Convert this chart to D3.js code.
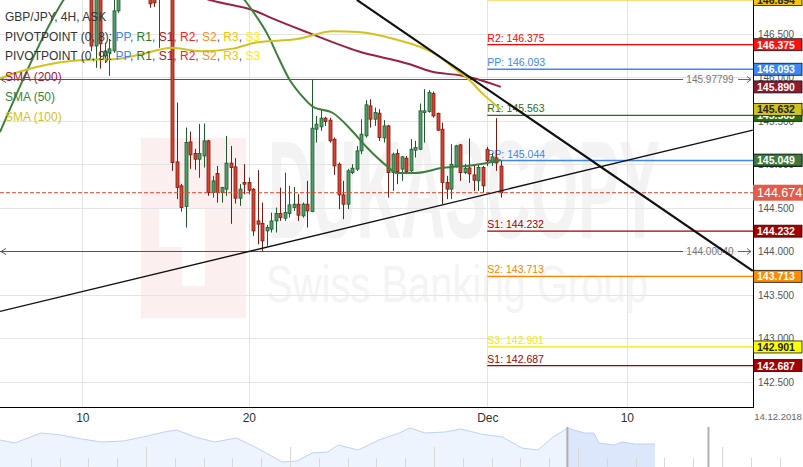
<!DOCTYPE html>
<html><head><meta charset="utf-8">
<script src="https://cdn.jsdelivr.net/npm/d3@7"></script>
<style>
html,body{margin:0;padding:0;background:#fff;}
svg{display:block;font-family:"Liberation Sans",Arial,sans-serif;}
</style></head><body>
<svg id="chart" width="803" height="467"></svg>
<script>
// ---------------- DATA ----------------
const candleIdx = [20,21,22,23,24,25,26,33,34,35,
  38,39,40,41,42,43,44,45,46,47,48,49,50,51,52,53,54,55,56,57,58,59,60,61,62,63,64,65,66,67,68,69,70,
  71,72,73,74,75,76,77,78,79,80,81,82,83,84,85,86,87,88,89,90,91,92,93,94,95,96,97,98,99,100,
  101,102,103,104,105,106,107,108,109,110,111];
const open  = [147.30,146.36,147.25,146.247,146.281,146.304,146.764,147.00,146.95,146.95,
  147.30,145.028,144.753,144.515,145.258,145.124,145.059,145.097,145.270,144.676,144.894,144.676,144.715,145.014,144.971,144.611,144.791,144.791,144.715,144.350,144.319,144.235,144.255,144.350,144.434,144.381,144.434,144.503,144.542,144.408,144.542,144.457,145.404,
  145.431,145.531,145.508,145.289,145.002,144.649,144.542,144.905,144.945,145.155,145.327,145.672,145.519,145.588,145.304,145.442,144.905,145.124,144.945,145.071,144.925,145.163,145.174,145.595,145.607,145.813,145.584,145.404,144.791,144.715,
  144.980,145.224,144.905,144.959,144.879,144.810,144.963,145.174,145.020,145.074,144.980];
const high  = [147.35,147.25,147.30,146.396,146.442,146.95,147.20,147.05,147.00,147.15,
  147.40,145.710,144.776,145.423,145.377,145.178,145.465,145.469,145.281,144.868,144.982,144.741,145.327,145.212,145.071,144.772,145.002,144.848,144.726,144.933,144.561,144.304,144.446,144.503,144.733,144.905,144.753,144.741,144.657,144.561,144.810,145.978,145.557,
  145.634,145.546,145.534,145.308,145.020,144.810,144.948,145.002,145.212,145.519,145.738,145.749,145.653,145.634,145.508,145.454,145.135,145.174,145.097,145.097,145.289,145.270,145.699,145.864,145.853,145.836,145.595,145.480,144.868,145.232,
  145.224,145.235,145.005,145.298,144.982,145.002,144.982,145.201,145.132,145.531,145.040];
const low   = [146.30,146.11,146.10,146.166,146.017,146.281,146.741,146.80,146.81,146.339,
  144.925,144.600,144.457,144.273,144.948,144.937,144.845,144.963,144.638,144.618,144.561,144.561,144.638,144.316,144.549,144.523,144.657,144.657,144.178,144.082,144.0004,144.063,144.216,144.216,144.350,144.350,144.388,144.465,144.350,144.388,144.273,144.450,145.250,
  145.385,145.442,145.250,144.879,144.485,144.370,144.485,144.887,144.925,145.117,145.308,145.423,145.442,145.270,145.250,144.618,144.695,144.772,144.810,144.887,144.905,145.078,145.163,145.250,145.595,145.538,145.385,144.542,144.600,144.600,
  144.963,144.810,144.887,144.787,144.695,144.695,144.676,144.982,144.982,144.925,144.617];
const close = [146.36,147.20,146.385,146.304,146.327,146.764,147.10,146.845,146.856,147.10,
  145.020,144.733,144.503,145.250,145.109,145.059,145.124,145.270,144.676,144.810,144.676,144.733,145.014,144.963,144.611,144.715,144.772,144.703,144.235,144.312,144.120,144.273,144.350,144.434,144.388,144.446,144.534,144.542,144.416,144.542,144.465,145.416,145.462,
  145.531,145.492,145.270,144.982,144.649,144.542,144.925,144.956,145.155,145.347,145.684,145.519,145.595,145.308,145.442,144.905,145.117,144.917,145.086,144.917,145.174,145.193,145.615,145.615,145.825,145.557,145.393,144.791,144.715,145.000,
  145.212,144.905,144.956,144.890,144.818,144.963,144.753,145.040,145.086,145.016,144.674];

// moving averages
const sma50Idx = [-0.3,13.7,33,54.2,59.7,61.2,64.2,66.4,69.3,73.7,77.5,81.3,85.7,87.9,91.9,98.2,104.8,109.3,111];
const sma50Val = [145.37,146.88,147.90,146.88,146.44,146.27,145.96,145.81,145.66,145.59,145.41,145.19,144.98,144.90,144.90,144.96,144.99,145.03,145.049];
const sma100Idx = [-0.3,7.1,18.2,25.5,31.5,37.9,44.2,51.5,56.6,65.7,73.7,79.3,87.3,96.4,101.5,104.2,106.6,111];
const sma100Val = [145.99,146.11,146.20,146.21,146.27,146.34,146.30,146.33,146.40,146.44,146.53,146.52,146.44,146.27,146.07,145.96,145.83,145.632];
const sma200Idx = [33,47,56.6,59.7,67.9,79.3,90.8,95.3,102.2,106.4,111];
const sma200Val = [147.11,146.88,146.76,146.69,146.52,146.30,146.15,146.07,146.02,145.97,145.890];

// pivot levels
const pivotNames  = ["R3","R2","PP","R1","PP","S1","S2","S3","S1"];
const pivotValues = [146.894,146.375,146.093,145.563,145.044,144.232,143.713,142.901,142.687];
const pivotColors = ["#f5c400","#ff0000","#3c87f5","#2a6e10","#3c87f5","#a30000","#ff8000","#f5e900","#a00000"];
const pivotStartIdx = 108;

// trend lines [idx, price]
const trendDown = [[79.0,146.890],[167.0,143.775]];
const trendUp   = [[-0.3,143.31],[167.0,145.393]];

// high / low markers
const hiLoValues = [145.97799, 144.00040];
const lastPrice = 144.674;

// axes
const yTicks = [142.5,143.0,143.5,144.0,144.5,145.0,145.5,146.0,146.5];
const xTickIdx = [18,55,108,139];
const xTickLabels = ["10","20","Dec","10"];
const endDateLabel = "14.12.2018";

// legend
const legendTitle = "GBP/JPY, 4H, ASK";
const pivotLegendTitles = ["PIVOTPOINT (0, 8): ","PIVOTPOINT (0, 9): "];
const pivotLegendNames = ["PP","R1","S1","R2","S2","R3","S3"];
const pivotLegendColors = ["#3c87f5","#2a7a1a","#a52020","#ff2020","#ff8c1a","#ffc000","#ffee00"];
const smaLegend = ["SMA (200)","SMA (50)","SMA (100)"];
const smaColors = ["#9c2140","#3d7f3d","#d4c21c"];

// navigator (overview) series: trading day, price
const navDay = [0,2.6,7.1,10.6,14.2,17.7,21.4,24.8,28.5,30.7,33.9,37.3,41.0,43.6,46.2,49.0,51.6,54.2,56.9,58.7,62.2,65.8,69.3,71.2,73.8,77.3,80.0,83.5,87.2,90.6,93.4,96.0,98.6,101.4,103.1,104.0,106.6,108.0,110.2,113.7];
const navPrice = [146.4,145.8,147.8,147.4,146.6,146.0,146.2,147.0,148.0,148.4,147.0,146.0,146.8,145.4,143.8,142.0,142.2,143.8,144.0,145.4,144.4,146.4,147.8,148.8,147.8,148.0,148.6,147.6,147.0,144.8,144.4,147.0,148.8,147.8,147.8,145.8,145.4,146.0,145.6,145.6];
const navWindow = [98.5, 123.0];

// ---------------- CHART ----------------
const W = 803, H = 467, plotW = 753, plotH = 407;
const svg = d3.select("#chart");
const x = d3.scaleLinear().domain([-0.29, 167.04]).range([0, plotW]);
const y = d3.scaleLinear().domain([142.211, 146.889]).range([plotH, 0]);

svg.append("rect").attr("width", W).attr("height", H).attr("fill", "#fff");
svg.append("defs").append("clipPath").attr("id", "clip")
  .append("rect").attr("width", plotW).attr("height", plotH);

const plot = svg.append("g").attr("clip-path", "url(#clip)");

// watermark
const wm = plot.append("g");
wm.append("rect").attr("x", 141).attr("y", 138).attr("width", 105).attr("height", 180).attr("fill", "#fcefef");
wm.append("rect").attr("x", 159).attr("y", 208).attr("width", 46).attr("height", 39).attr("fill", "#fff");
wm.append("rect").attr("x", 182).attr("y", 246).attr("width", 23).attr("height", 40).attr("fill", "#fff");
wm.append("text").attr("x", 268).attr("y", 238).attr("font-size", 140).attr("font-weight", "bold")
  .attr("textLength", 392).attr("lengthAdjust", "spacingAndGlyphs").attr("fill", "#f3f3f3").text("DUKASCOPY");
wm.append("text").attr("x", 266).attr("y", 302).attr("font-size", 52)
  .attr("textLength", 382).attr("lengthAdjust", "spacingAndGlyphs").attr("fill", "#f4f4f4").text("Swiss Banking Group");

// grid
plot.append("g").selectAll("line").data(yTicks).join("line")
  .attr("x1", 0).attr("x2", plotW).attr("y1", d => Math.round(y(d)) + 0.5).attr("y2", d => Math.round(y(d)) + 0.5)
  .attr("stroke", "#e4e4e4");
plot.append("g").selectAll("line").data(xTickIdx).join("line")
  .attr("y1", 0).attr("y2", plotH).attr("x1", d => Math.round(x(d)) + 0.5).attr("x2", d => Math.round(x(d)) + 0.5)
  .attr("stroke", "#e4e4e4");

// legend
const lg = svg.append("g").attr("font-size", 12);
lg.append("text").attr("x", 5).attr("y", 20.5).attr("fill", "#333").text(legendTitle);
pivotLegendTitles.forEach((t, r) => {
  const tx = lg.append("text").attr("x", 5).attr("y", 40.5 + r * 19.5).attr("fill", "#333");
  tx.append("tspan").text(t);
  pivotLegendNames.forEach((n, i) => {
    tx.append("tspan").attr("fill", pivotLegendColors[i]).text(n);
    if (i < pivotLegendNames.length - 1) tx.append("tspan").attr("fill", "#555").text(", ");
  });
});
smaLegend.forEach((t, i) => {
  lg.append("text").attr("x", 5).attr("y", 80.5 + i * 20).attr("fill", smaColors[i]).text(t);
});

// high/low markers
hiLoValues.forEach(v => {
  const yy = Math.round(y(v)) + 0.5;
  const g = plot.append("g");
  g.append("line").attr("x1", 0).attr("x2", 683).attr("y1", yy).attr("y2", yy).attr("stroke", "#555").attr("stroke-width", 1);
  g.append("path").attr("d", `M6,${yy - 3}L1,${yy}L6,${yy + 3}`).attr("fill", "none").attr("stroke", "#555");
  g.append("text").attr("x", 710).attr("y", yy + 3.5).attr("text-anchor", "middle").attr("font-size", 10)
    .attr("fill", "#777").text(v.toFixed(5));
  g.append("line").attr("x1", 738).attr("x2", 751).attr("y1", yy).attr("y2", yy).attr("stroke", "#666");
  g.append("path").attr("d", `M747,${yy - 3}L751,${yy}L747,${yy + 3}`).attr("fill", "none").attr("stroke", "#666");
});

// pivot lines + labels
const pv = plot.append("g");
pivotValues.forEach((v, i) => {
  const yy = y(v);
  pv.append("line").attr("x1", x(pivotStartIdx)).attr("x2", plotW).attr("y1", yy).attr("y2", yy)
    .attr("stroke", pivotColors[i]).attr("stroke-width", i === 0 ? 2 : 1.3);
  pv.append("text").attr("x", x(pivotStartIdx)).attr("y", yy - 3).attr("font-size", 10.5)
    .attr("fill", pivotColors[i]).text(`${pivotNames[i]}: ${v.toFixed(3)}`);
});

// candles
const candles = candleIdx.map((t, i) => ({ t, o: open[i], h: high[i], l: low[i], c: close[i] }));
const cg = plot.append("g");
const upFill = "#4f9e6c", upLine = "#1e5b2c", dnFill = "#d8452f", dnLine = "#7a1a12";
cg.selectAll("line").data(candles).join("line")
  .attr("x1", d => Math.round(x(d.t)) + 0.5).attr("x2", d => Math.round(x(d.t)) + 0.5)
  .attr("y1", d => y(d.h)).attr("y2", d => y(d.l))
  .attr("stroke", d => d.c >= d.o ? upLine : dnLine).attr("stroke-width", 1);
cg.selectAll("rect").data(candles).join("rect")
  .attr("x", d => Math.round(x(d.t)) - 1)
  .attr("width", 3)
  .attr("y", d => y(Math.max(d.o, d.c)))
  .attr("height", d => Math.max(1, Math.abs(y(d.o) - y(d.c))))
  .attr("fill", d => d.c >= d.o ? upFill : dnFill)
  .attr("stroke", d => d.c >= d.o ? upLine : dnLine).attr("stroke-width", 0.8);

// SMAs
const lineGen = d3.line().x(d => x(d[0])).y(d => y(d[1])).curve(d3.curveMonotoneX);
[[sma200Idx, sma200Val, smaColors[0]], [sma50Idx, sma50Val, smaColors[1]], [sma100Idx, sma100Val, smaColors[2]]]
  .forEach(([ix, vs, col]) => {
    plot.append("path").attr("d", lineGen(ix.map((t, i) => [t, vs[i]])))
      .attr("fill", "none").attr("stroke", col).attr("stroke-width", 2);
  });

// current price line
plot.append("line").attr("x1", 0).attr("x2", plotW).attr("y1", y(lastPrice)).attr("y2", y(lastPrice))
  .attr("stroke", "#e5452e").attr("stroke-width", 1).attr("stroke-dasharray", "4,2");

// trend lines
const straight = d3.line().x(d => x(d[0])).y(d => y(d[1]));
plot.append("path").attr("d", straight(trendDown)).attr("stroke", "#111").attr("stroke-width", 2.2).attr("fill", "none");
plot.append("path").attr("d", straight(trendUp)).attr("stroke", "#111").attr("stroke-width", 1.4).attr("fill", "none");

// border
svg.append("line").attr("x1", plotW + 0.5).attr("x2", plotW + 0.5).attr("y1", 0).attr("y2", plotH + 1).attr("stroke", "#000");
svg.append("line").attr("x1", 0).attr("x2", plotW + 1).attr("y1", plotH + 0.5).attr("y2", plotH + 0.5).attr("stroke", "#000");

// y axis
const yAxis = svg.append("g").attr("transform", `translate(${plotW},0)`)
  .call(d3.axisRight(y).tickValues(yTicks).tickSize(0).tickPadding(5).tickFormat(d3.format(".3f")));
yAxis.select(".domain").remove();
yAxis.selectAll("text").attr("font-size", 10).attr("fill", "#555").attr("font-family", "Liberation Sans, Arial, sans-serif");

// x axis
const xAxis = svg.append("g").attr("transform", `translate(0,${plotH})`)
  .call(d3.axisBottom(x).tickValues(xTickIdx).tickSize(0).tickPadding(6).tickFormat((d, i) => xTickLabels[i]));
xAxis.select(".domain").remove();
xAxis.selectAll("text").attr("font-size", 12).attr("fill", "#333").attr("font-family", "Liberation Sans, Arial, sans-serif");
svg.append("text").attr("x", 778).attr("y", 420).attr("text-anchor", "middle").attr("font-size", 9.5)
  .attr("fill", "#666").text(endDateLabel);

// value boxes on right axis
const boxes = [
  { v: pivotValues[0], bg: "#f7c600", fg: "#222" },
  { v: pivotValues[1], bg: "#ff1010", fg: "#fff" },
  { v: pivotValues[2], bg: "#3c87f5", fg: "#fff" },
  { v: sma200Val[sma200Val.length - 1], bg: "#8e1a2e", fg: "#fff" },
  { v: pivotValues[3], bg: "#2a6e10", fg: "#fff" },
  { v: sma100Val[sma100Val.length - 1], bg: "#d4c21c", fg: "#222" },
  { v: pivotValues[4], bg: "#3c87f5", fg: "#fff" },
  { v: sma50Val[sma50Val.length - 1], bg: "#3b7a3b", fg: "#fff" },
  { v: pivotValues[5], bg: "#a30000", fg: "#fff" },
  { v: pivotValues[6], bg: "#ff8a00", fg: "#fff" },
  { v: pivotValues[7], bg: "#ffff00", fg: "#222" },
  { v: pivotValues[8], bg: "#a00000", fg: "#fff" }
];
const bg = svg.append("g");
boxes.forEach(b => {
  const yy = y(b.v);
  bg.append("rect").attr("x", plotW + 0.5).attr("y", yy - 6).attr("width", 48.5).attr("height", 12)
    .attr("fill", b.bg).attr("stroke", "#111").attr("stroke-width", 0.8);
  bg.append("text").attr("x", plotW + 4).attr("y", yy + 4).attr("font-size", 10.5).attr("font-weight", "bold")
    .attr("fill", b.fg).text(b.v.toFixed(3));
});
{
  const yy = y(lastPrice);
  bg.append("rect").attr("x", plotW).attr("y", yy - 8).attr("width", 50).attr("height", 16).attr("fill", "#e25c4a");
  bg.append("text").attr("x", plotW + 4).attr("y", yy + 4.5).attr("font-size", 12.5)
    .attr("fill", "#fff").text(lastPrice.toFixed(3));
}

// navigator
const nx = d3.scaleLinear().domain([0, 140]).range([0, 806.4]);
const ny = d3.scaleLinear().domain([141, 149]).range([467, 427]);
const nav = svg.append("g");
const navPts = navDay.map((d, i) => [d, navPrice[i]]);
const area = d3.area().x(d => nx(d[0])).y0(467).y1(d => ny(d[1]));
nav.append("defs").append("clipPath").attr("id", "navsel").append("rect")
  .attr("x", nx(navWindow[0])).attr("y", 420).attr("width", nx(navWindow[1]) - nx(navWindow[0])).attr("height", 50);
nav.append("path").attr("d", area(navPts)).attr("fill", "#eef4fd");
nav.append("path").attr("d", area(navPts)).attr("fill", "#dce7fb").attr("clip-path", "url(#navsel)");
nav.append("path").attr("d", d3.line().x(d => nx(d[0])).y(d => ny(d[1]))(navPts))
  .attr("fill", "none").attr("stroke", "#bed2f6").attr("stroke-width", 1);
const navTicks = d3.range(5.33, 140, 5);
nav.selectAll(".nt").data(navTicks).join("line").attr("class", "nt")
  .attr("x1", d => Math.round(nx(d)) + 0.5).attr("x2", d => Math.round(nx(d)) + 0.5)
  .attr("y1", (d, i) => i % 5 === 4 ? 447 : 458).attr("y2", 467)
  .attr("stroke", "#d8d8d8");
navWindow.forEach(d => {
  nav.append("rect").attr("x", nx(d) - 1).attr("y", 427).attr("width", 2).attr("height", 40).attr("fill", "#b0b0b0");
});
</script>
</body></html>
